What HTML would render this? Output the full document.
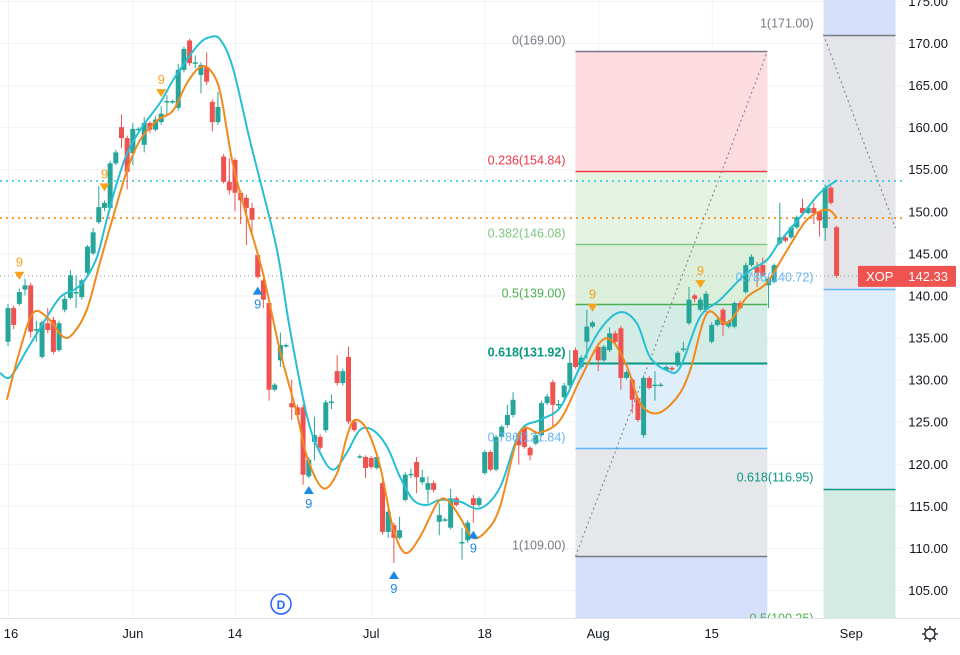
<!DOCTYPE html>
<html><head><meta charset="utf-8"><style>
html,body{margin:0;padding:0;background:#fff;overflow:hidden}
svg{display:block;font-family:"Liberation Sans",sans-serif}
</style></head><body>
<svg id="chart" width="960" height="655" viewBox="0 0 960 655" xmlns="http://www.w3.org/2000/svg">
<defs><clipPath id="plotClip"><rect x="0" y="0" width="902" height="618"/></clipPath></defs>
<g id="grid"></g>
<g id="fibs" clip-path="url(#plotClip)"></g>
<g id="refLines" clip-path="url(#plotClip)"></g>
<g id="candles" clip-path="url(#plotClip)"></g>
<g id="mas" clip-path="url(#plotClip)"></g>
<g id="marks" clip-path="url(#plotClip)"></g>
<g id="fibLabels" clip-path="url(#plotClip)"></g>
<g id="yAxis"></g>
<g id="xAxis"></g>
<line x1="0" y1="618.5" x2="960" y2="618.5" stroke="#e0e3eb"/>
<g><circle cx="281" cy="604" r="10" fill="#fff" stroke="#2962ff" stroke-width="1.5"/><text x="281" y="609" text-anchor="middle" font-size="12" font-weight="bold" fill="#2962ff">D</text></g>
<g transform="translate(930,634)"><circle r="5" fill="none" stroke="#131722" stroke-width="1.3"/><path d="M0,-8V-5M0,5V8M-8,0H-5M5,0H8M-5.7,-5.7L-3.5,-3.5M3.5,3.5L5.7,5.7M-5.7,5.7L-3.5,3.5M3.5,-3.5L5.7,-5.7" stroke="#131722" stroke-width="1.3"/></g>
</svg>
<script>
// ---- data ----
const opens  = [134.5,138.5,139.0,140.7,141.2,135.9,132.7,136.7,137.1,133.5,138.3,139.7,140.3,139.8,142.7,145.0,148.7,150.4,150.4,155.7,160.0,158.7,156.9,159.8,157.9,160.5,159.7,160.6,163.0,163.0,162.3,166.8,170.3,167.6,166.2,167.1,163.0,160.6,156.5,153.5,156.1,152.2,151.6,150.4,144.8,141.8,139.1,128.8,132.3,134.0,127.2,126.7,126.7,118.5,122.6,123.2,124.0,127.3,131.0,129.6,132.7,125.0,120.8,120.8,120.7,119.5,117.7,111.9,112.7,111.2,115.7,118.7,120.2,117.8,116.9,117.7,113.1,113.3,112.4,115.9,110.6,110.9,115.9,115.1,118.9,121.4,119.3,123.2,124.6,125.8,123.6,124.2,121.9,122.4,123.4,127.2,129.7,127.0,127.9,129.3,133.5,131.5,134.5,136.3,133.9,132.3,133.5,135.5,136.1,130.2,130.0,127.8,123.4,130.2,129.3,129.4,131.2,131.4,131.7,133.6,136.7,140.0,138.3,138.3,134.5,136.5,138.3,136.3,136.3,139.1,140.4,143.6,143.4,143.6,141.2,141.6,146.2,146.9,146.9,148.1,150.4,149.8,150.4,149.9,148.0,152.8,148.1];
const highs  = [139.0,138.8,140.8,142.0,141.5,137.0,137.0,138.5,137.5,137.0,140.0,143.0,142.4,142.0,146.0,148.0,153.0,151.3,156.0,157.3,161.5,159.0,160.5,160.0,161.2,160.7,161.3,162.5,163.8,163.3,167.5,169.6,170.5,168.5,167.7,168.9,163.3,164.2,156.8,156.3,156.3,152.5,152.0,151.0,145.0,142.0,139.3,129.6,135.6,134.3,130.0,127.0,127.0,120.8,125.6,123.5,127.6,128.2,132.9,131.3,133.9,125.3,121.1,121.0,120.9,121.2,118.0,114.6,113.0,113.7,119.0,119.4,120.8,119.3,118.5,118.0,115.3,113.6,117.0,116.1,112.4,113.3,116.3,116.1,121.6,121.6,123.4,124.6,127.0,128.5,123.8,124.5,122.1,123.6,127.5,128.3,130.0,127.6,129.6,133.5,133.8,132.9,138.3,137.0,134.2,134.1,136.2,135.8,136.4,131.1,130.2,128.0,130.5,130.4,131.0,129.6,131.7,131.6,133.4,134.5,141.0,140.2,139.8,140.5,136.8,137.3,138.5,137.1,139.3,139.4,143.9,144.9,144.0,144.5,142.2,143.8,151.0,147.1,148.3,149.5,151.5,150.6,151.0,150.1,153.2,153.0,148.3];
const lows   = [134.0,136.0,138.8,140.0,135.0,134.5,132.5,135.5,133.0,133.3,138.0,139.5,138.5,139.5,142.5,144.8,148.5,150.0,150.2,155.5,157.5,152.6,155.5,159.5,157.0,159.3,159.5,160.3,161.5,162.8,162.0,166.5,167.3,167.0,164.0,165.0,159.5,160.3,153.3,152.0,150.0,148.5,146.0,147.0,142.0,138.5,127.5,128.6,131.5,133.8,125.2,125.5,117.5,118.3,120.4,121.6,123.7,126.5,129.3,129.3,124.7,123.8,120.6,118.3,119.4,119.3,111.6,111.2,108.2,111.0,115.5,118.3,116.5,117.5,115.3,116.6,111.5,113.1,112.2,114.9,108.6,110.6,113.0,114.9,118.7,119.1,119.1,123.0,124.3,125.5,119.9,121.8,120.4,122.2,123.2,127.0,124.5,126.5,127.6,129.0,131.3,131.3,132.5,136.1,131.0,132.1,133.3,134.3,128.8,130.0,126.0,125.0,123.1,128.8,127.5,129.2,131.0,131.0,131.5,133.3,136.5,139.2,138.1,138.0,134.3,136.3,135.2,136.1,136.1,138.3,140.2,143.4,141.0,142.2,138.5,141.4,146.0,146.3,146.7,147.9,149.5,149.6,148.5,147.0,146.5,150.8,142.1];
const closes = [138.5,136.5,140.4,141.2,135.7,136.0,136.8,135.9,133.3,136.7,139.6,142.4,140.4,141.8,145.8,147.5,150.5,151.0,155.7,157.0,158.7,154.7,159.8,159.8,160.5,159.7,160.9,161.6,163.1,163.1,166.8,169.3,167.6,167.7,167.4,165.4,160.6,162.4,153.5,152.5,152.2,151.3,150.4,149.0,142.2,139.5,128.8,129.4,134.1,134.1,126.7,125.8,118.7,120.5,123.4,121.9,127.3,127.4,129.6,131.0,125.0,124.0,120.9,119.5,119.6,120.8,111.9,114.3,111.2,112.1,118.7,118.8,118.4,118.4,117.7,116.9,113.9,113.4,115.9,115.1,110.7,113.0,115.1,115.9,121.4,119.3,123.2,124.4,125.8,127.6,122.2,122.0,121.0,123.4,127.2,128.0,127.0,127.1,129.3,132.0,131.5,132.6,136.3,136.8,132.3,133.9,135.5,134.5,130.2,130.9,127.6,125.2,130.2,129.0,129.4,129.4,131.5,131.2,133.2,133.7,139.5,139.6,139.5,140.2,136.5,137.1,136.5,136.9,139.1,138.5,143.6,144.6,142.7,142.4,142.0,143.6,146.9,146.5,148.1,149.3,149.8,150.4,149.8,148.9,152.8,151.0,142.33];
// moving average samples: bar index and value
const cyanIdx = [-1.4,0.4,3.3,6.2,9.2,12.2,13.9,15.7,17.4,19.2,21.0,23.3,26.8,29.1,31.5,33.8,35.6,37.4,39.6,42.6,44.4,47.4,49.7,52.7,55.0,57.3,59.7,62.0,64.3,66.8,69.1,71.4,73.8,76.1,79.6,83.2,86.7,90.2,93.7,97.3,100.8,104.3,107.8,110.8,113.1,116.1,118.4,121.9,125.5,130.2,133.7,136.0,139.6,143.1,146.1];
const cyanVal = [130.8,130.3,133.5,136.7,139.8,140.9,142.2,144.6,149.0,153.4,156.9,159.7,162.9,165.6,168.0,170.0,170.7,170.4,167.1,158.5,153.7,145.4,135.9,125.6,121.3,119.3,121.3,124.0,124.0,122.0,118.4,115.7,115.1,115.7,115.5,114.7,117.2,123.8,125.2,126.7,131.5,135.9,138.0,136.7,132.7,131.1,131.4,137.4,139.5,142.7,144.2,146.4,149.3,152.2,153.7];
const orangeIdx = [-0.2,2.1,4.4,6.9,9.7,11.5,13.9,16.2,18.5,21.0,23.3,26.3,29.1,31.5,33.8,35.6,37.4,39.6,42.1,44.9,47.9,50.9,52.7,55.5,58.0,59.7,61.1,63.3,65.6,67.8,70.0,72.6,75.6,77.4,79.6,81.9,84.4,86.7,90.2,93.7,97.3,100.8,104.3,106.6,109.1,111.4,114.4,117.9,120.2,123.2,126.7,130.2,133.7,137.3,140.8,144.3,146.1];
const orangeVal = [127.6,133.5,137.9,137.4,135.1,135.5,138.3,143.9,149.3,154.9,158.5,160.8,162.0,165.2,167.1,166.8,164.1,155.7,149.3,142.7,133.5,126.0,120.8,117.1,118.9,123.2,125.2,124.0,119.6,112.5,109.4,111.3,115.3,115.7,113.7,111.2,112.1,114.9,123.7,123.7,125.2,130.0,134.4,134.5,131.5,127.2,126.0,127.9,131.1,137.9,136.7,139.8,141.5,145.4,149.0,150.2,149.2];
// TD sequential markers
const sellIdx = [2,17,27,103,122];
const buyIdx  = [44,53,68,82];
// fib retracement A (bar range, high/low)
const fibALevels = [0,0.236,0.382,0.5,0.618,0.786,1];
const fibAHigh = 169, fibALow = 109, fibAStart = 100, fibAEnd = 133.8;
// fib B
const fibBLevels = [0.5,0.618,0.786,1];
const fibBTop = 171, fibBBase = 29.5, fibBStart = 143.7, fibBEnd = 156.4;
// axis ticks
const priceTicks = [175,170,165,160,155,150,145,140,135,130,125,120,115,110,105];
const timeLabels = ["16","Jun","14","Jul","18","Aug","15","Sep"];
const timeIdx    = [0,22,40,64,84,104,124,150];
const lastPrice = 142.33, cyanLast = 153.6, orangeLast = 149.2;

// ---- scales ----
const NS='http://www.w3.org/2000/svg';
function X(i){return 8+i*5.675;}
function Y(p){return 43+(170-p)*8.415;}
function el(tag,attrs,parent){const e=document.createElementNS(NS,tag);for(const k in attrs)e.setAttribute(k,attrs[k]);parent.appendChild(e);return e;}
const G=id=>document.getElementById(id);

// grid
const grid=G('grid');
priceTicks.forEach(p=>{const l=el('line',{x1:0,x2:902,y1:Y(p)+0.5,y2:Y(p)+0.5,stroke:'#f0f3fa'},grid);

});
timeIdx.forEach(i=>{const l=el('line',{x1:X(i)+0.5,x2:X(i)+0.5,y1:0,y2:618,stroke:'#f0f3fa'},grid);

});

// fib A
const fibs=G('fibs'), fl=G('fibLabels');
const fibAColors=['#787b86','#f23645','#81c784','#4caf50','#089981','#64b5f6','#787b86'];
const fibAFills=['#fcdcdf','#e6f3e2','#dcefda','#d4ece6','#deeefb','#e6e7ea'];
const ax1=X(fibAStart), ax2=X(fibAEnd);
const fp=l=>fibAHigh-l*(fibAHigh-fibALow);
for(let k=0;k<fibALevels.length-1;k++){
 const r=el('rect',{x:ax1,y:Y(fp(fibALevels[k])),width:ax2-ax1,height:Y(fp(fibALevels[k+1]))-Y(fp(fibALevels[k])),fill:fibAFills[k]},fibs);
 
 
}
const below=el('rect',{x:ax1,y:Y(fibALow),width:ax2-ax1,height:618-Y(fibALow),fill:'#d6e0fb'},fibs);


fibALevels.forEach((l,k)=>{
 const p=fp(l), y=Math.round(Y(p))+0.5;
 const ln=el('line',{x1:ax1,x2:ax2,y1:y,y2:y,stroke:fibAColors[k],'stroke-width':k===4?2:1.5},fibs);
 
 
 const t=el('text',{x:ax1-10,y:y-7,'text-anchor':'end','font-size':12.5,fill:fibAColors[k],'font-weight':k===4?'bold':'normal'},fl);
 t.textContent=l+'('+p.toFixed(2)+')';
 
 
});
const tr=el('line',{x1:ax1,y1:Y(fibALow),x2:ax2,y2:Y(fibAHigh),stroke:'#787b86','stroke-dasharray':'2 3'},fibs);



// fib B
const bx1=X(fibBStart), bx2=X(fibBEnd);
const bp=l=>fibBBase+l*(fibBTop-fibBBase);
const bz=[[0,Y(fibBTop),'#d5e0fb'],[Y(fibBTop),Y(bp(0.786)),'#e4e5e8'],[Y(bp(0.786)),Y(bp(0.618)),'#ddedfb'],[Y(bp(0.618)),618,'#d3ebe2']];
bz.forEach(z=>{const r=el('rect',{x:bx1,y:z[0],width:bx2-bx1,height:z[1]-z[0],fill:z[2]},fibs);
 
 });
const bCol={1:'#787b86',0.786:'#64b5f6',0.618:'#089981',0.5:'#4caf50'};
fibBLevels.forEach(l=>{
 const p=bp(l), y=Math.round(Y(p))+0.5;
 const ln=el('line',{x1:bx1,x2:bx2,y1:y,y2:y,stroke:bCol[l],'stroke-width':1.5},fibs);
 
 
 const t=el('text',{x:bx1-10,y:y-8,'text-anchor':'end','font-size':12.5,fill:bCol[l]},fl);
 t.textContent=l+'('+p.toFixed(2)+')';
 
 
});
const tr2=el('line',{x1:bx1,y1:Y(fibBTop),x2:bx2,y2:Y(148),stroke:'#787b86','stroke-dasharray':'2 3'},fibs);



// reference dotted lines
const rl=G('refLines');
[[cyanLast,'#26c6da','2 4',1.5],[orangeLast,'#f57c00','2 4',1.5],[lastPrice,'#9598a1','1 3',1]].forEach(d=>{
 const l=el('line',{x1:0,x2:902,y1:Y(d[0]),y2:Y(d[0]),stroke:d[1],'stroke-dasharray':d[2],'stroke-width':d[3]},rl);
 
 
});

// candles
const cg=G('candles');
for(let i=0;i<opens.length;i++){
 const o=opens[i],c=closes[i],h=highs[i],lo=lows[i];
 const col=c>=o?'#26a69a':'#ef5350';
 const x=X(i);
 const w=el('line',{x1:x,x2:x,y1:Y(h),y2:Y(lo),stroke:col,'stroke-width':1},cg);
 
 
 const top=Y(Math.max(o,c)), bh=Math.max(1.5,Math.abs(Y(o)-Y(c)));
 const b=el('rect',{x:x-2.5,y:top,width:5,height:bh,fill:col},cg);
 
 
}

// MA lines
function smooth(idx,val){
 const pts=idx.map((v,k)=>[X(v),Y(val[k])]);
 let d='M'+pts[0][0]+','+pts[0][1];
 for(let k=0;k<pts.length-1;k++){
  const p0=pts[k-1]||pts[k],p1=pts[k],p2=pts[k+1],p3=pts[k+2]||p2;
  d+=' C'+(p1[0]+(p2[0]-p0[0])/6)+','+(p1[1]+(p2[1]-p0[1])/6)+' '+(p2[0]-(p3[0]-p1[0])/6)+','+(p2[1]-(p3[1]-p1[1])/6)+' '+p2[0]+','+p2[1];
 }
 return d;
}
const mg=G('mas');
const cyan=el('path',{d:smooth(cyanIdx,cyanVal),fill:'none',stroke:'#26bfd3','stroke-width':2},mg);


const orng=el('path',{d:smooth(orangeIdx,orangeVal),fill:'none',stroke:'#f08a1c','stroke-width':2},mg);



// TD markers
const mk=G('marks');
sellIdx.forEach(i=>{
 const x=X(i), y=Y(highs[i])-12;
 const t=el('path',{d:`M${x-5},${y-5}L${x+5},${y-5}L${x},${y+3}Z`,fill:'#f7a21b'},mk);
 
 
 const n=el('text',{x:x,y:y-10,'text-anchor':'middle','font-size':13,fill:'#f7a21b'},mk);
 n.textContent='9';
 
 
});
buyIdx.forEach(i=>{
 const x=X(i), y=Y(lows[i])+10;
 const t=el('path',{d:`M${x-5},${y+6}L${x+5},${y+6}L${x},${y-2}Z`,fill:'#1e88e5'},mk);
 
 
 const n=el('text',{x:x,y:y+20,'text-anchor':'middle','font-size':13,fill:'#1e88e5'},mk);
 n.textContent='9';
 
 
});

// y axis
const ya=G('yAxis');
priceTicks.forEach(p=>{
 const t=el('text',{x:948,y:Y(p)+5,'text-anchor':'end','font-size':13,fill:'#131722'},ya);
 t.textContent=p.toFixed(2);
 
 
});
const badge=el('rect',{x:858,y:Y(lastPrice)-10,width:98,height:21,fill:'#ef5350',rx:1},ya);


const sym=el('text',{x:866,y:Y(lastPrice)+5,'font-size':13,fill:'#fff'},ya);
sym.textContent='XOP';


const lp=el('text',{x:948,y:Y(lastPrice)+5,'text-anchor':'end','font-size':13,fill:'#fff'},ya);
lp.textContent=lastPrice.toFixed(2);



// x axis
const xa=G('xAxis');
timeLabels.forEach((s,k)=>{
 const t=el('text',{x:X(timeIdx[k])+(k===0?3:(k===7?-8:0)),y:638,'text-anchor':'middle','font-size':13,fill:'#131722'},xa);
 t.textContent=s;
 
 
});
</script>
</body></html>
